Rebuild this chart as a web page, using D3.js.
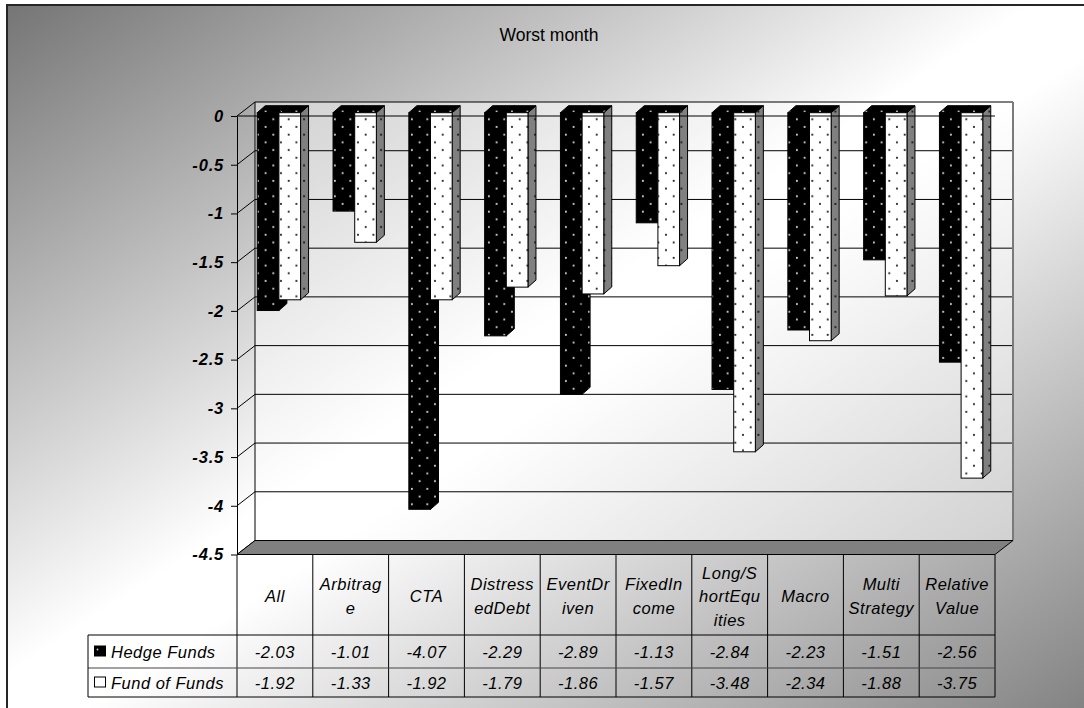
<!DOCTYPE html>
<html>
<head>
<meta charset="utf-8">
<script src="https://cdn.jsdelivr.net/npm/d3@7/dist/d3.min.js"></script>
<style>
  html, body { margin: 0; padding: 0; background: #ffffff; }
  svg { display: block; }
  text { font-family: "Liberation Sans", Arial, sans-serif; fill: #000; }
</style>
</head>
<body>
<svg id="chart" width="1084" height="708"></svg>
<script>
// ---- data ----
const categories = ["All", "Arbitrage", "CTA", "DistressedDebt", "EventDriven",
  "FixedIncome", "Long/ShortEquities", "Macro", "Multi Strategy", "Relative Value"];
const categoryLines = [["All"], ["Arbitrag", "e"], ["CTA"], ["Distress", "edDebt"],
  ["EventDr", "iven"], ["FixedIn", "come"], ["Long/S", "hortEqu", "ities"], ["Macro"],
  ["Multi", "Strategy"], ["Relative", "Value"]];
const seriesNames = ["Hedge Funds", "Fund of Funds"];
const hedgeFunds = [-2.03, -1.01, -4.07, -2.29, -2.89, -1.13, -2.84, -2.23, -1.51, -2.56];
const fundOfFunds = [-1.92, -1.33, -1.92, -1.79, -1.86, -1.57, -3.48, -2.34, -1.88, -3.75];
const yTicks = [0, -0.5, -1, -1.5, -2, -2.5, -3, -3.5, -4, -4.5];
const yTickLabels = ["0", "-0.5", "-1", "-1.5", "-2", "-2.5", "-3", "-3.5", "-4", "-4.5"];
const title = "Worst month";

const seriesValues = [hedgeFunds, fundOfFunds];

// ---- layout ----
const svg = d3.select("#chart");
const left = 237, right = 995;
const depth = { x: 18, y: -14 };          // offset from front plane to back wall
const barOff = { x: 4, y: -3.3 };         // bar front face inside the depth
const barDepth = { x: 8, y: -7 };         // depth of each bar
const tableTop = 555, headBottom = 635, row1Bottom = 668, tableBottom = 697, legendLeft = 88;

const y = d3.scaleLinear().domain([0, -4.5]).range([116, 554.5]);
const x = d3.scaleBand().domain(categories).range([left, right]).padding(0);
const xs = d3.scaleBand().domain(seriesNames).range([0, x.bandwidth()])
  .paddingInner(0).paddingOuter(0.75);

// ---- defs: gradients and dotted fills ----
const defs = svg.append("defs");
const bg = defs.append("linearGradient").attr("id", "bgGrad")
  .attr("x1", 0).attr("y1", 0).attr("x2", 1).attr("y2", 1);
bg.append("stop").attr("offset", 0).attr("stop-color", "#757575");
bg.append("stop").attr("offset", 0.47).attr("stop-color", "#ffffff");
bg.append("stop").attr("offset", 0.53).attr("stop-color", "#ffffff");
bg.append("stop").attr("offset", 1).attr("stop-color", "#808080");

function dotPattern(id, fill, dot) {
  const p = defs.append("pattern").attr("id", id).attr("patternUnits", "userSpaceOnUse")
    .attr("width", 15.4).attr("height", 15.4);
  p.append("rect").attr("width", 15.4).attr("height", 15.4).attr("fill", fill);
  p.append("circle").attr("cx", 3.8).attr("cy", 3.8).attr("r", 1.05).attr("fill", dot);
  p.append("circle").attr("cx", 11.5).attr("cy", 11.5).attr("r", 1.05).attr("fill", dot);
}
dotPattern("darkDots", "#000000", "#d0d0d0");
dotPattern("lightDots", "#ffffff", "#202020");
dotPattern("greyDots", "#808080", "#151515");

// ---- chart area background ----
svg.append("rect").attr("x", 7).attr("y", 5).attr("width", 1090).attr("height", 712)
  .attr("fill", "url(#bgGrad)").attr("stroke", "#262626").attr("stroke-width", 2);

svg.append("text").attr("x", 549).attr("y", 40.5).attr("text-anchor", "middle")
  .style("font-size", "17.5px").text(title);

// ---- back wall ----
const backTop = y(0) + depth.y, backBottom = y(-4.5) + depth.y;
svg.append("rect").attr("x", left + depth.x).attr("y", backTop)
  .attr("width", right - left).attr("height", backBottom - backTop)
  .attr("fill", "#ffffff").attr("fill-opacity", 0.45);

const grid = svg.append("g").attr("stroke", "#000").attr("stroke-width", 1).attr("fill", "none");
grid.selectAll("line.h").data(yTicks).join("line").attr("class", "h")
  .attr("x1", left + depth.x).attr("x2", right + depth.x)
  .attr("y1", d => y(d) + depth.y).attr("y2", d => y(d) + depth.y);
grid.selectAll("line.d").data(yTicks).join("line").attr("class", "d")
  .attr("x1", left).attr("x2", left + depth.x)
  .attr("y1", d => y(d)).attr("y2", d => y(d) + depth.y);
grid.append("line").attr("x1", left + depth.x).attr("x2", left + depth.x)
  .attr("y1", backTop).attr("y2", backBottom);
grid.append("line").attr("x1", right + depth.x).attr("x2", right + depth.x)
  .attr("y1", backTop).attr("y2", backBottom).attr("stroke", "#7a7a7a").attr("stroke-width", 2);

// ---- floor ----
svg.append("path")
  .attr("d", `M${left},${y(-4.5)}L${right},${y(-4.5)}L${right + depth.x},${backBottom}L${left + depth.x},${backBottom}Z`)
  .attr("fill", "#808080").attr("stroke", "#000").attr("stroke-width", 1);

// ---- value axis ----
const axis = d3.axisLeft(y).tickValues(yTicks).tickFormat((d, i) => yTickLabels[i])
  .tickSize(6).tickSizeOuter(0).tickPadding(7);
const ag = svg.append("g").attr("transform", `translate(${left},0)`).call(axis);
ag.select(".domain").attr("stroke", "#000");
ag.selectAll(".tick line").attr("stroke", "#000");
ag.selectAll(".tick text").style("font-size", "16.5px").style("font-weight", "bold")
  .style("font-style", "italic").style("letter-spacing", "0.8px").attr("fill", "#000");

// ---- bars ----
const fronts = ["url(#darkDots)", "url(#lightDots)"];
const sides = ["url(#darkDots)", "url(#greyDots)"];
const bars = svg.append("g").attr("stroke", "#000").attr("stroke-width", 1);
categories.forEach((cat, i) => {
  seriesNames.forEach((s, k) => {
    const v = seriesValues[k][i];
    const x0 = x(cat) + xs(s) + barOff.x, w = xs.bandwidth();
    const yt = y(0) + barOff.y, yb = y(v) + barOff.y;
    const dx = barDepth.x, dy = barDepth.y;
    const g = bars.append("g");
    g.append("path").attr("fill", sides[k])
      .attr("d", `M${x0 + w},${yt}L${x0 + w + dx},${yt + dy}L${x0 + w + dx},${yb + dy}L${x0 + w},${yb}Z`);
    g.append("path").attr("fill", "url(#darkDots)")
      .attr("d", `M${x0},${yt}L${x0 + w},${yt}L${x0 + w + dx},${yt + dy}L${x0 + dx},${yt + dy}Z`);
    g.append("rect").attr("fill", fronts[k])
      .attr("x", x0).attr("y", yt).attr("width", w).attr("height", yb - yt);
  });
});

// category axis line at zero on the front plane
svg.append("line").attr("x1", left).attr("x2", right).attr("y1", y(0)).attr("y2", y(0))
  .attr("stroke", "#000");

// ---- data table ----
const tbl = svg.append("g").attr("stroke", "#000").attr("stroke-width", 1);
const bounds = categories.map(c => x(c)).concat([right]);
tbl.selectAll("line.v").data(bounds).join("line").attr("class", "v")
  .attr("x1", d => d).attr("x2", d => d).attr("y1", tableTop).attr("y2", tableBottom);
tbl.selectAll("line.r").data([headBottom, row1Bottom, tableBottom]).join("line").attr("class", "r")
  .attr("x1", legendLeft).attr("x2", right).attr("y1", d => d).attr("y2", d => d)
  .attr("stroke", (d, i) => i === 1 ? "#444" : "#000");
tbl.append("line").attr("x1", legendLeft).attr("x2", legendLeft)
  .attr("y1", headBottom).attr("y2", tableBottom);

const tableFont = { size: "16.5px", ls: "0.5px" };
const head = svg.append("g");
categories.forEach((cat, i) => {
  const lines = categoryLines[i];
  const cx = x(cat) + x.bandwidth() / 2;
  const lh = 23.5, mid = (tableTop + headBottom) / 2 + 1;
  const t = head.append("text").attr("text-anchor", "middle")
    .style("font-size", tableFont.size).style("font-style", "italic").style("letter-spacing", tableFont.ls);
  lines.forEach((ln, j) => {
    t.append("tspan").attr("x", cx)
      .attr("y", mid + (j - (lines.length - 1) / 2) * lh + 6).text(ln);
  });
});

const rowMid = [(headBottom + row1Bottom) / 2, (row1Bottom + tableBottom) / 2];
seriesNames.forEach((s, k) => {
  const ym = rowMid[k];
  // legend key
  svg.append("rect").attr("x", 94.5).attr("y", ym - 5.5).attr("width", 11).attr("height", 10)
    .attr("fill", k === 0 ? "#000" : "#fff").attr("stroke", "#000");
  if (k === 0) svg.append("circle").attr("cx", 97.5).attr("cy", ym - 2).attr("r", 0.9).attr("fill", "#ccc");
  svg.append("text").attr("x", 111).attr("y", ym + 6)
    .style("font-size", tableFont.size).style("font-style", "italic").style("letter-spacing", tableFont.ls)
    .text(s);
  svg.append("g").selectAll("text").data(seriesValues[k]).join("text")
    .attr("x", (d, i) => x(categories[i]) + x.bandwidth() / 2).attr("y", ym + 6)
    .attr("text-anchor", "middle")
    .style("font-size", tableFont.size).style("font-style", "italic").style("letter-spacing", tableFont.ls)
    .text(d => d.toFixed(2));
});
</script>
</body>
</html>
